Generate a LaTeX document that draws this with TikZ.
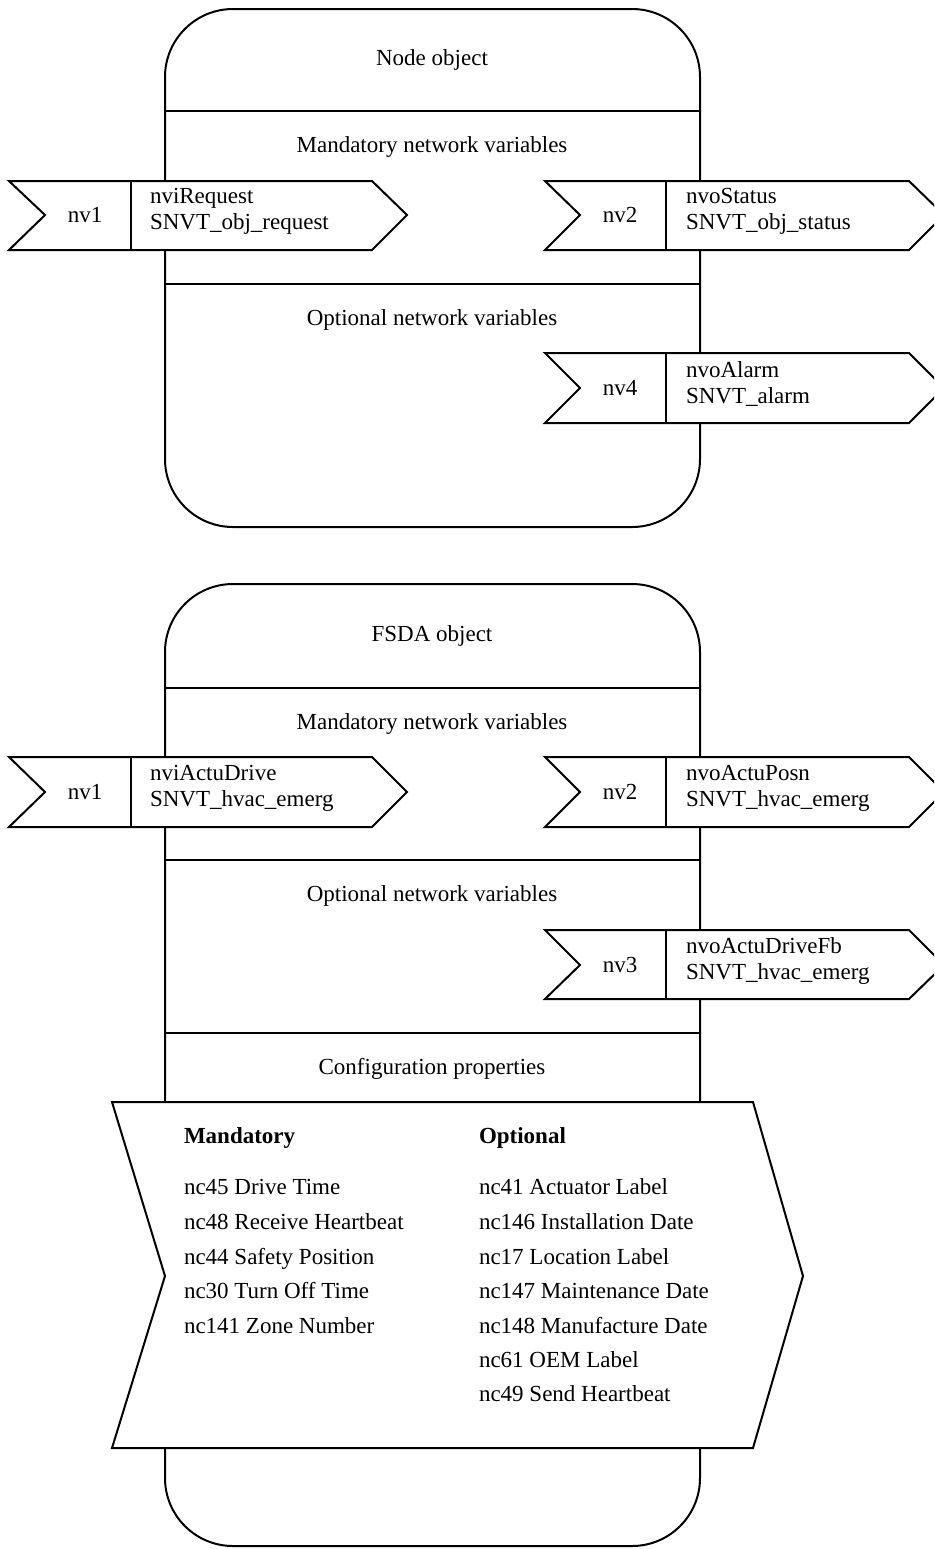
\documentclass[tikz,border=0pt]{standalone}
\usepackage{fontspec}
\setmainfont{Liberation Serif}

\begin{document}
\begin{tikzpicture}[x=0.5pt, y=-0.5pt, line width=1pt,
    every node/.style={font=\fontsize{11.5}{13}\selectfont, inner sep=0pt},
    objbox/.style={rounded corners=34pt},
    nvtext/.style={align=left, anchor=west},
    cptext/.style={anchor=base west}]
    \useasboundingbox (0,0) rectangle (934,1549);
    \clip (0,0) rectangle (934,1549);
    % node object
    \draw [objbox] (165,9) rectangle (700,527);
    \draw (165,111) -- (700,111);
    \draw (165,284) -- (700,284);
    \node (0) at (432,60) {Node object};
    \node (1) at (432,147) {Mandatory network variables};
    \node (2) at (432,320) {Optional network variables};
    % nv1 (in)
    \draw [fill=white] (9,181) -- (372,181) -- (407,215) -- (372,250) -- (9,250) -- (45,215) -- cycle;
    \draw (131,181) -- (131,250);
    \node (3) at (85,215) {nv1};
    \node [nvtext] (4) at (149,211) {nviRequest\\SNVT\_obj\_request};
    % nv2 (out)
    \draw [fill=white] (545,181) -- (909,181) -- (944,215) -- (909,250) -- (545,250) -- (580,215) -- cycle;
    \draw (666,181) -- (666,250);
    \node (5) at (620,215) {nv2};
    \node [nvtext] (6) at (685,211) {nvoStatus\\SNVT\_obj\_status};
    % nv4 (out)
    \draw [fill=white] (545,353) -- (909,353) -- (944,388) -- (909,423) -- (545,423) -- (580,388) -- cycle;
    \draw (666,353) -- (666,423);
    \node (7) at (620,388) {nv4};
    \node [nvtext] (8) at (685,384) {nvoAlarm\\SNVT\_alarm};

    % FSDA object
    \draw [objbox] (165,584) rectangle (700,1546);
    \draw (165,688) -- (700,688);
    \draw (165,860) -- (700,860);
    \draw (165,1033) -- (700,1033);
    \node (10) at (432,636) {FSDA object};
    \node (11) at (432,724) {Mandatory network variables};
    \node (12) at (432,896) {Optional network variables};
    \node (13) at (432,1069) {Configuration properties};
    % nv1 (in)
    \draw [fill=white] (9,757) -- (372,757) -- (407,792) -- (372,827) -- (9,827) -- (45,792) -- cycle;
    \draw (131,757) -- (131,827);
    \node (14) at (85,792) {nv1};
    \node [nvtext] (15) at (149,788) {nviActuDrive\\SNVT\_hvac\_emerg};
    % nv2 (out)
    \draw [fill=white] (545,757) -- (909,757) -- (944,792) -- (909,827) -- (545,827) -- (580,792) -- cycle;
    \draw (666,757) -- (666,827);
    \node (16) at (620,792) {nv2};
    \node [nvtext] (17) at (685,788) {nvoActuPosn\\SNVT\_hvac\_emerg};
    % nv3 (out)
    \draw [fill=white] (545,930) -- (909,930) -- (944,965) -- (909,999) -- (545,999) -- (580,965) -- cycle;
    \draw (666,930) -- (666,999);
    \node (18) at (620,965) {nv3};
    \node [nvtext] (19) at (685,961) {nvoActuDriveFb\\SNVT\_hvac\_emerg};
    % configuration properties
    \draw [fill=white] (112,1102) -- (753,1102) -- (803,1276) -- (753,1448) -- (112,1448) -- (165,1276) -- cycle;
    \node [cptext] (20) at (183,1143) {\bfseries Mandatory};
    \node [cptext] (21) at (183,1194) {nc45 Drive Time};
    \node [cptext] (22) at (183,1229) {nc48 Receive Heartbeat};
    \node [cptext] (23) at (183,1264) {nc44 Safety Position};
    \node [cptext] (24) at (183,1298) {nc30 Turn Off Time};
    \node [cptext] (25) at (183,1333) {nc141 Zone Number};
    \node [cptext] (30) at (478,1143) {\bfseries Optional};
    \node [cptext] (31) at (478,1194) {nc41 Actuator Label};
    \node [cptext] (32) at (478,1229) {nc146 Installation Date};
    \node [cptext] (33) at (478,1264) {nc17 Location Label};
    \node [cptext] (34) at (478,1298) {nc147 Maintenance Date};
    \node [cptext] (35) at (478,1333) {nc148 Manufacture Date};
    \node [cptext] (36) at (478,1367) {nc61 OEM Label};
    \node [cptext] (37) at (478,1401) {nc49 Send Heartbeat};
\end{tikzpicture}
\end{document}
